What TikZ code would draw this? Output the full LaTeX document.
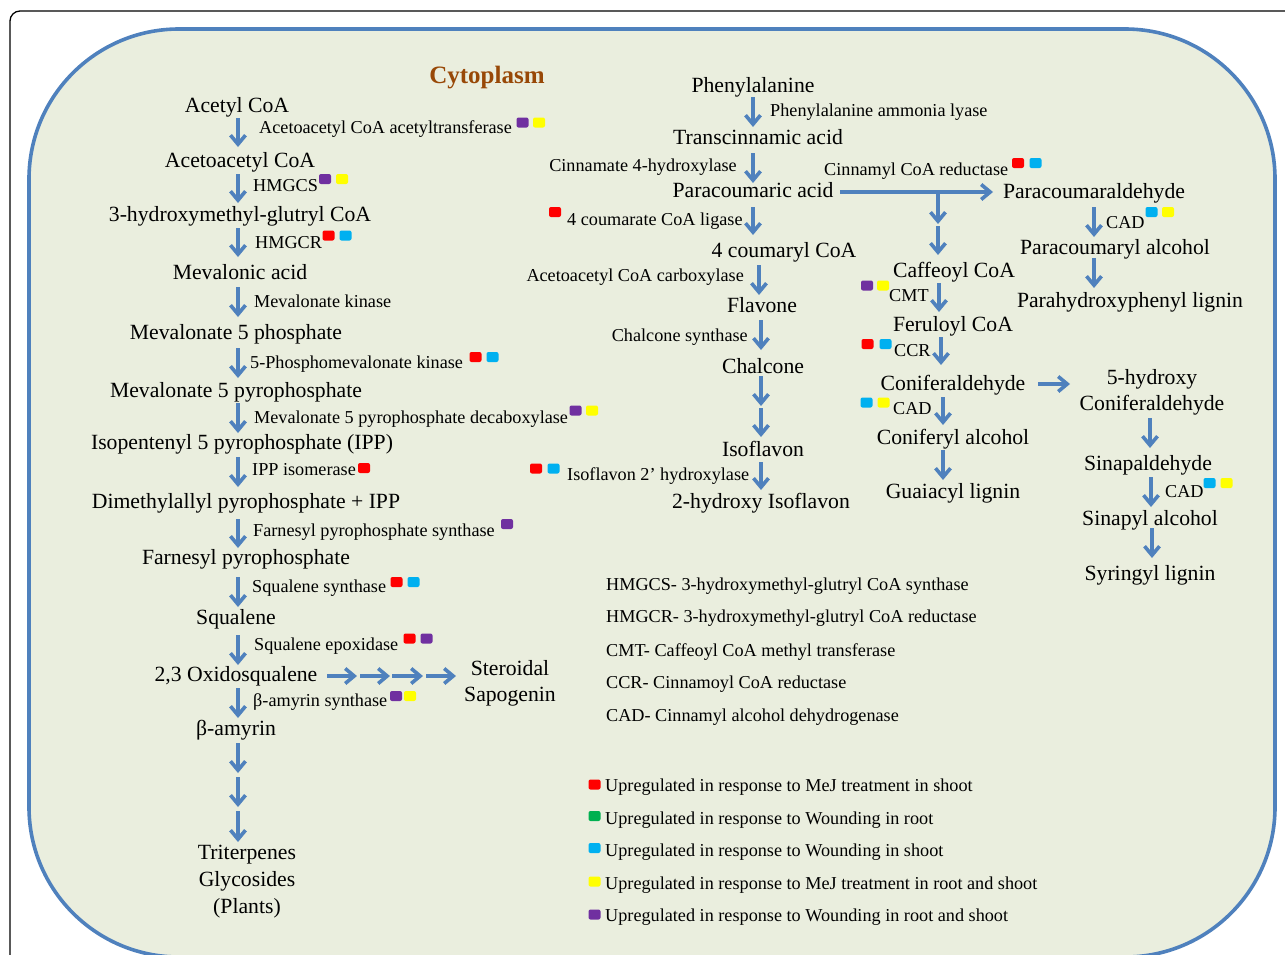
\documentclass[tikz,border=0pt]{standalone}
\usepackage{fontspec}
\setmainfont{Liberation Serif}
\usetikzlibrary{arrows.meta,calc}
\definecolor{bgfill}{RGB}{234,238,222}
\definecolor{boxblue}{RGB}{79,129,189}
\definecolor{arrblue}{RGB}{79,129,189}
\definecolor{cytbrown}{RGB}{152,72,7}
\definecolor{sqred}{RGB}{255,0,0}
\definecolor{sqgreen}{RGB}{0,176,80}
\definecolor{sqblue}{RGB}{0,176,240}
\definecolor{sqyellow}{RGB}{255,255,0}
\definecolor{sqpurple}{RGB}{112,48,160}
\begin{document}
\begin{tikzpicture}[x=1pt,y=-1pt,
  mainn/.style={font=\fontsize{21.7}{26}\selectfont, inner sep=0pt, text height=17.2pt, text depth=2.8pt},
  multi/.style={font=\fontsize{21.7}{#1}\selectfont, inner sep=0pt, align=center},
  enz/.style={font=\fontsize{18.2}{22}\selectfont, inner sep=0pt, text height=14pt, text depth=2pt, anchor=west},
  enzr/.style={enz, anchor=east},
  sq/.style={fill=#1, draw=none, minimum width=12pt, minimum height=10pt, inner sep=0pt, rounded corners=2pt},
  arr/.style={draw=arrblue, line width=3.6pt, -{Straight Barb[length=9pt,width=15pt]}}
]
\useasboundingbox (0,0) rectangle (1285,954);
\clip (0,0) rectangle (1285,954);
\fill[white] (0,0) rectangle (1285,954);
% frames
\draw[black, line width=1.3pt, rounded corners=10pt] (10,990) -- (10,11) -- (1310,11);
\draw[fill=bgfill, draw=boxblue, line width=3.6pt, rounded corners=150pt] (29,29) rectangle (1275,957);

\node[font=\fontsize{25}{30}\selectfont\bfseries, text=cytbrown, inner sep=0pt, text height=17pt, text depth=0.5pt] (cyto) at (487,75) {Cytoplasm};

% ---------------- left column ----------------
\node[mainn] (m1) at (237,105) {Acetyl CoA};
\node[mainn] (m2) at (240,160) {Acetoacetyl CoA};
\node[mainn] (m3) at (240,214) {3-hydroxymethyl-glutryl CoA};
\node[mainn] (m4) at (240,272) {Mevalonic acid};
\node[mainn] (m5) at (236,332) {Mevalonate 5 phosphate};
\node[mainn] (m6) at (236,390) {Mevalonate 5 pyrophosphate};
\node[mainn] (m7) at (242,442) {Isopentenyl 5 pyrophosphate (IPP)};
\node[mainn] (m8) at (246,501) {Dimethylallyl pyrophosphate + IPP};
\node[mainn] (m9) at (246,557) {Farnesyl pyrophosphate};
\node[mainn] (m10) at (236,617) {Squalene};
\node[mainn] (m11) at (236,674) {2,3 Oxidosqualene};
\node[mainn] (m12) at (236,728) {β-amyrin};
\node[multi=27] (m13) at (247,882) {Triterpenes\\Glycosides\\(Plants)};
\node[multi=26] (sap) at (510,683) {Steroidal\\Sapogenin};

\node[enz] (e1) at (259,127) {Acetoacetyl CoA acetyltransferase};
\node[enz] (e2) at (253,185) {HMGCS};
\node[enz] (e3) at (255,242) {HMGCR};
\node[enz] (e4) at (254,301) {Mevalonate kinase};
\node[enz] (e5) at (250,362) {5-Phosphomevalonate kinase};
\node[enz] (e6) at (254,417) {Mevalonate 5 pyrophosphate decaboxylase};
\node[enz] (e7) at (252,469) {IPP isomerase};
\node[enz] (e8) at (253,530) {Farnesyl pyrophosphate synthase};
\node[enz] (e9) at (252,586) {Squalene synthase};
\node[enz] (e10) at (254,644) {Squalene epoxidase};
\node[enz] (e11) at (253,700) {β-amyrin synthase};

\node[sq=sqpurple] (s1a) at (522.5,122.5) {};
\node[sq=sqyellow] (s1b) at (539,122.5) {};
\node[sq=sqpurple] (s2a) at (325,179) {};
\node[sq=sqyellow] (s2b) at (342,179) {};
\node[sq=sqred] (s3a) at (328.5,235.5) {};
\node[sq=sqblue] (s3b) at (345.5,235.5) {};
\node[sq=sqred] (s5a) at (475.5,357) {};
\node[sq=sqblue] (s5b) at (492.5,357) {};
\node[sq=sqpurple] (s6a) at (575.5,410.5) {};
\node[sq=sqyellow] (s6b) at (592,410.5) {};
\node[sq=sqred] (s7a) at (364,468) {};
\node[sq=sqpurple] (s8a) at (507,524) {};
\node[sq=sqred] (s9a) at (396.5,582) {};
\node[sq=sqblue] (s9b) at (413.5,582) {};
\node[sq=sqred] (s10a) at (409.5,638.5) {};
\node[sq=sqpurple] (s10b) at (426.5,638.5) {};
\node[sq=sqpurple] (s11a) at (396,696) {};
\node[sq=sqyellow] (s11b) at (410,696) {};

\draw[arr] ($(m1)+(1,13)$) -- ($(m2)+(-2,-13)$);
\draw[arr] ($(m2)+(-2,14)$) -- ($(m3)+(-2,-11)$);
\draw[arr] ($(m3)+(-2,14)$) -- ($(m4)+(-2,-15)$);
\draw[arr] ($(m4)+(-2,15)$) -- ($(m5)+(2,-15)$);
\draw[arr] ($(m5)+(2,16)$) -- ($(m6)+(2,-12)$);
\draw[arr] ($(m6)+(2,13)$) -- ($(m7)+(-4,-9)$);
\draw[arr] ($(m7)+(-4,15)$) -- ($(m8)+(-8,-14)$);
\draw[arr] ($(m8)+(-8,18)$) -- ($(m9)+(-8,-9)$);
\draw[arr] ($(m9)+(-8,20)$) -- ($(m10)+(2,-10)$);
\draw[arr] ($(m10)+(2,18)$) -- ($(m11)+(2,-9)$);
\draw[arr] ($(m11)+(2,14)$) -- ($(m12)+(2,-10)$);
\draw[arr] ($(m12)+(2,15)$) -- ($(m12)+(2,45)$);
\draw[arr] ($(m12)+(2,49)$) -- ($(m12)+(2,79)$);
\draw[arr] ($(m12)+(2,83)$) -- ($(m13)+(-9,-40)$);
% to sapogenin
\draw[arr] ($(m11)+(91,2)$) -- ($(m11)+(121,2)$);
\draw[arr] ($(m11)+(124,2)$) -- ($(m11)+(154,2)$);
\draw[arr] ($(m11)+(156,2)$) -- ($(m11)+(187,2)$);
\draw[arr] ($(m11)+(190,2)$) -- ($(sap)+(-54,-7)$);

% ---------------- middle column ----------------
\node[mainn] (p1) at (753,85) {Phenylalanine};
\node[mainn] (p2) at (758,137) {Transcinnamic acid};
\node[mainn] (p3) at (753,190) {Paracoumaric acid};
\node[mainn] (p4) at (784,250) {4 coumaryl CoA};
\node[mainn] (p5) at (762,305) {Flavone};
\node[mainn] (p6) at (763,366) {Chalcone};
\node[mainn] (p7) at (763,449) {Isoflavon};
\node[mainn] (p8) at (761,501) {2-hydroxy Isoflavon};

\node[enz] (f1) at (770,110) {Phenylalanine ammonia lyase};
\node[enzr] (f2) at (737,165) {Cinnamate 4-hydroxylase};
\node[enz] (f3) at (567,219) {4 coumarate CoA ligase};
\node[enzr] (f4) at (744,275) {Acetoacetyl CoA carboxylase};
\node[enzr] (f5) at (748,335) {Chalcone synthase};
\node[enz] (f6) at (567,474) {Isoflavon 2’ hydroxylase};
\node[enz] (f7) at (824,169) {Cinnamyl CoA reductase};

\node[sq=sqred] (sf3) at (555,212) {};
\node[sq=sqred] (sf6a) at (536,468.5) {};
\node[sq=sqblue] (sf6b) at (553.5,468.5) {};
\node[sq=sqred] (sf7a) at (1018,163) {};
\node[sq=sqblue] (sf7b) at (1035.5,163) {};

\draw[arr] ($(p1)+(0,12)$) -- ($(p2)+(-5,-10)$);
\draw[arr] ($(p2)+(-5,16)$) -- ($(p3)+(0,-7)$);
\draw[arr] ($(p3)+(0,17)$) -- ($(p4)+(-31,-15)$);
\draw[arr] ($(p4)+(-25,15)$) -- ($(p5)+(-3,-10)$);
\draw[arr] ($(p5)+(-1,15)$) -- ($(p6)+(-2,-16)$);
\draw[arr] ($(p6)+(-2,10)$) -- ($(p6)+(-2,40)$);
\draw[arr] ($(p6)+(-2,42)$) -- ($(p7)+(-2,-12)$);
\draw[arr] ($(p7)+(-2,13)$) -- ($(p8)+(0,-11)$);

% ---------------- right part ----------------
\node[mainn] (pald) at (1094,191) {Paracoumaraldehyde};
\node[mainn] (palc) at (1115,247) {Paracoumaryl alcohol};
\node[mainn] (plig) at (1130,300) {Parahydroxyphenyl lignin};
\node[mainn] (caf) at (954,270) {Caffeoyl CoA};
\node[mainn] (fer) at (953,324) {Feruloyl CoA};
\node[mainn] (con) at (953,383) {Coniferaldehyde};
\node[mainn] (cola) at (953,437) {Coniferyl alcohol};
\node[mainn] (gua) at (953,491) {Guaiacyl lignin};
\node[multi=26] (hcon) at (1152,392) {5-hydroxy\\Coniferaldehyde};
\node[mainn] (sina) at (1148,463) {Sinapaldehyde};
\node[mainn] (sinal) at (1150,518) {Sinapyl alcohol};
\node[mainn] (syr) at (1150,573) {Syringyl lignin};

\node[enz] (g1) at (1106,222) {CAD};
\node[enz] (g2) at (889,295) {CMT};
\node[enz] (g3) at (894,350) {CCR};
\node[enz] (g4) at (893,408) {CAD};
\node[enz] (g5) at (1165,491) {CAD};

\node[sq=sqblue] (sg1a) at (1151.5,212) {};
\node[sq=sqyellow] (sg1b) at (1168,212) {};
\node[sq=sqpurple] (sg2a) at (867,285.5) {};
\node[sq=sqyellow] (sg2b) at (883,285.5) {};
\node[sq=sqred] (sg3a) at (867.5,344) {};
\node[sq=sqblue] (sg3b) at (885.5,344) {};
\node[sq=sqblue] (sg4a) at (866.5,402.5) {};
\node[sq=sqyellow] (sg4b) at (883.5,402.5) {};
\node[sq=sqblue] (sg5a) at (1209.5,483) {};
\node[sq=sqyellow] (sg5b) at (1226.5,483) {};

\draw[arr] ($(p3)+(87,2)$) -- ($(pald)+(-101,1)$);
\coordinate (br) at ($(p3)+(185,3)$);
\draw[arr] (br) -- ($(br)+(0,31)$);
\draw[arr] ($(br)+(0,33)$) -- ($(caf)+(-16,-15)$);
\draw[arr] ($(pald)+(0,16)$) -- ($(palc)+(-21,-10)$);
\draw[arr] ($(palc)+(-21,11)$) -- ($(plig)+(-36,-12)$);
\draw[arr] ($(caf)+(-15,13)$) -- ($(fer)+(-14,-12)$);
\draw[arr] ($(fer)+(-12,13)$) -- ($(con)+(-12,-18)$);
\draw[arr] ($(con)+(-10,14)$) -- ($(cola)+(-10,-12)$);
\draw[arr] ($(cola)+(-10,13)$) -- ($(gua)+(-10,-11)$);
\draw[arr] ($(con)+(85,1)$) -- ($(hcon)+(-82,-8)$);
\draw[arr] ($(hcon)+(-2,26)$) -- ($(sina)+(2,-15)$);
\draw[arr] ($(sina)+(3,14)$) -- ($(sinal)+(1,-11)$);
\draw[arr] ($(sinal)+(2,10)$) -- ($(syr)+(2,-15)$);

% ---------------- abbreviations ----------------
\node[enz] (ab1) at (606,584) {HMGCS- 3-hydroxymethyl-glutryl CoA synthase};
\node[enz] (ab2) at (606,616) {HMGCR- 3-hydroxymethyl-glutryl CoA reductase};
\node[enz] (ab3) at (606,650) {CMT- Caffeoyl CoA methyl transferase};
\node[enz] (ab4) at (606,682) {CCR- Cinnamoyl CoA reductase};
\node[enz] (ab5) at (606,715) {CAD- Cinnamyl alcohol dehydrogenase};

% ---------------- legend ----------------
\node[sq=sqred] (l1) at (594.5,784.5) {};
\node[sq=sqgreen] (l2) at (594.5,816) {};
\node[sq=sqblue] (l3) at (594.5,848) {};
\node[sq=sqyellow] (l4) at (594.5,881.5) {};
\node[sq=sqpurple] (l5) at (594.5,914.5) {};
\node[enz] (lt1) at (605,785) {Upregulated in response to MeJ treatment in shoot};
\node[enz] (lt2) at (605,818) {Upregulated in response to Wounding in root};
\node[enz] (lt3) at (605,850) {Upregulated in response to Wounding in shoot};
\node[enz] (lt4) at (605,883) {Upregulated in response to MeJ treatment in root and shoot};
\node[enz] (lt5) at (605,915) {Upregulated in response to Wounding in root and shoot};
\end{tikzpicture}
\end{document}
